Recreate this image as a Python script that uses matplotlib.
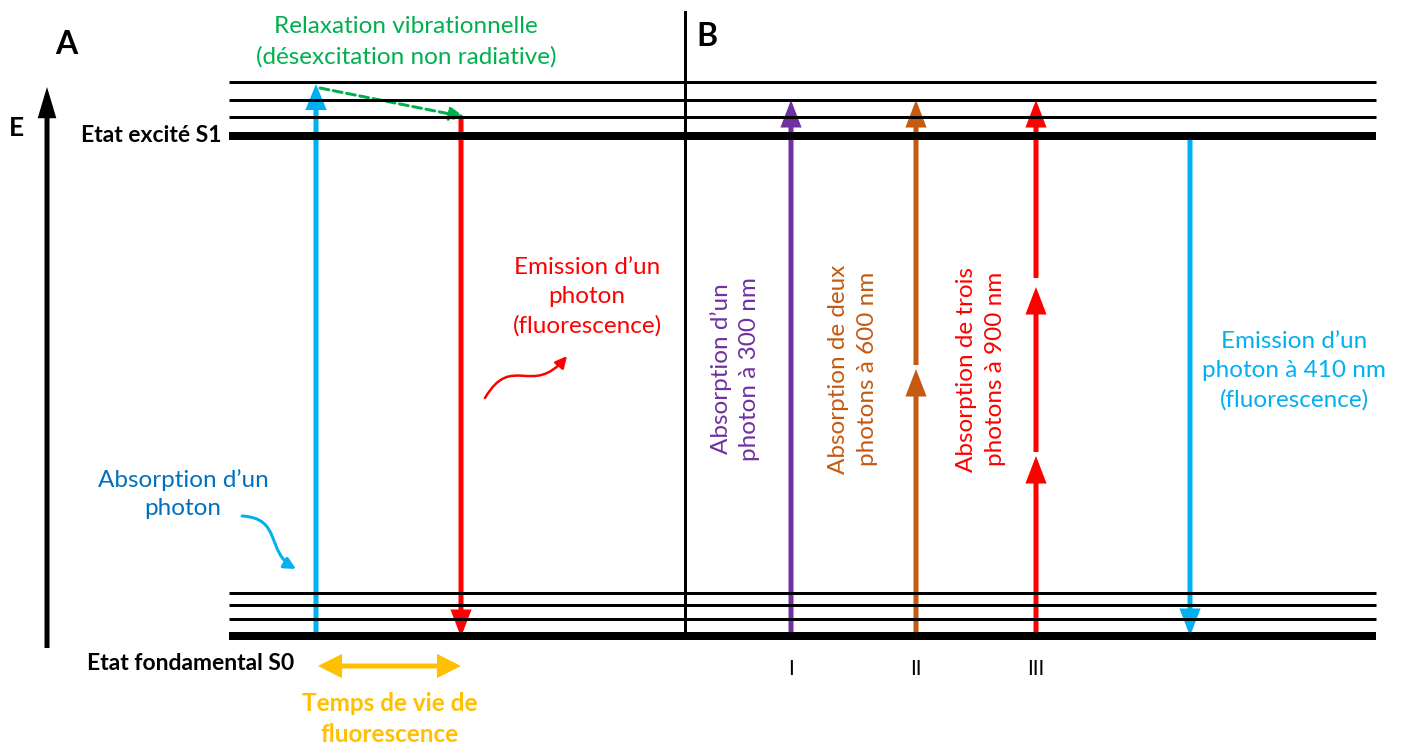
import matplotlib
matplotlib.use('Agg')
import matplotlib.pyplot as plt
from matplotlib.patches import FancyArrowPatch
from matplotlib.path import Path

FONT = ['Lato', 'DejaVu Sans']
plt.rcParams['font.family'] = FONT

W, H = 1401, 745
PX = 0.72  # points per pixel at dpi 100

# ---- data (pixel coordinates of the diagram) ----
s1_levels = [82, 100, 117, 136]
s0_levels = [593, 605, 619, 636]
level_widths = [3, 3, 3, 8]
level_x = [229, 1376]

abs_x = 316
em_x = 461
b_x = [791, 916, 1036]
b_labels = ['I', 'II', 'III']
b_colors = ['#7030A0', '#C55A11', '#FF0000']
b_segments = [
    [(636, 100)],
    [(636, 369), (365, 100)],
    [(636, 456), (452, 287), (278, 100)],
]
b_texts = ["Absorption d\u2019un\nphoton \u00e0 300 nm",
           "Absorption de deux\nphotons \u00e0 600 nm",
           "Absorption de trois\nphotons \u00e0 900 nm"]
b_text_x = [735, 853, 981]
b_text_y = [369, 369, 369]
b_em_x = 1190

BLUE = '#00B0F0'
DBLUE = '#0070C0'
RED = '#FF0000'
GREEN = '#00B050'
ORANGE = '#FFC000'
FS = 17.5
LS = 1.45

fig = plt.figure(figsize=(W / 100, H / 100), dpi=100)
ax = fig.add_axes([0, 0, 1, 1])
ax.set_xlim(0, W)
ax.set_ylim(H, 0)
ax.axis('off')


def arrow(x0, y0, x1, y1, color, lw=5, hl=18, hw=14, style='-|>', ls='-'):
    st = f"{style},head_length={hl*PX/10:.2f},head_width={hw/2*PX/10:.2f}"
    ax.add_patch(FancyArrowPatch((x0, y0), (x1, y1), arrowstyle=st,
                                 mutation_scale=10, lw=lw * PX, color=color,
                                 shrinkA=0, shrinkB=0, linestyle=ls,
                                 joinstyle='miter', capstyle='butt'))


# energy levels
for levels in (s1_levels, s0_levels):
    for y, w in zip(levels, level_widths):
        ax.plot(level_x, [y, y], color='black', lw=w * PX, solid_capstyle='butt')

# divider
ax.plot([685, 685], [12, 637], color='black', lw=3 * PX)

# E axis arrow
arrow(47, 648, 47, 87, 'black', lw=5, hl=20, hw=12)
ax.text(16, 128, 'E', fontsize=19, fontweight='bold', ha='center', va='center')
ax.text(66, 44, 'A', fontsize=23, fontweight='bold', ha='center', va='center')
ax.text(707, 36, 'B', fontsize=23, fontweight='bold', ha='center', va='center')

ax.text(221, 136, 'Etat excit\u00e9 S1', fontsize=16.5, fontweight='bold', ha='right', va='center')
ax.text(294, 663, 'Etat fondamental S0', fontsize=16.5, fontweight='bold', ha='right', va='center')

# panel A
arrow(abs_x, 634, abs_x, 84, BLUE, lw=5, hl=17, hw=14)
arrow(em_x, 117, em_x, 637, RED, lw=5, hl=18, hw=14)
ax.add_patch(FancyArrowPatch((320, 88), (465, 117), arrowstyle='-|>,head_length=0.9,head_width=0.4',
                             mutation_scale=10, lw=3 * PX, color=GREEN, linestyle=(0, (3, 1.5)),
                             shrinkA=0, shrinkB=0))
ax.text(406, 42, 'Relaxation vibrationnelle\n(d\u00e9sexcitation non radiative)', fontsize=FS,
        color=GREEN, ha='center', va='center', linespacing=LS + 0.05)
ax.text(587, 297, 'Emission d\u2019un\nphoton\n(fluorescence)', fontsize=FS, color=RED,
        ha='center', va='center', linespacing=LS)
ax.text(183, 494, 'Absorption d\u2019un\nphoton', fontsize=FS, color=DBLUE,
        ha='center', va='center', linespacing=LS)

wavy = Path([(485, 398), (512, 352), (532, 398), (567, 356)],
            [Path.MOVETO, Path.CURVE4, Path.CURVE4, Path.CURVE4])
ax.add_patch(FancyArrowPatch(path=wavy, arrowstyle='-|>,head_length=0.7,head_width=0.35',
                             mutation_scale=10, lw=2.5 * PX, color=RED))
curve = Path([(242, 516), (282, 518), (266, 552), (296, 569)],
             [Path.MOVETO, Path.CURVE4, Path.CURVE4, Path.CURVE4])
ax.add_patch(FancyArrowPatch(path=curve, arrowstyle='-|>,head_length=0.7,head_width=0.35',
                             mutation_scale=10, lw=3 * PX, color=BLUE))

arrow(318, 666, 461, 666, ORANGE, lw=5, hl=16, hw=16, style='<|-|>')
ax.text(390, 719, 'Temps de vie de\nfluorescence', fontsize=FS, fontweight='bold',
        color=ORANGE, ha='center', va='center', linespacing=LS)

# panel B
for x, segs, c, t, tx, ty, lab in zip(b_x, b_segments, b_colors, b_texts, b_text_x, b_text_y, b_labels):
    for y0, y1 in segs:
        arrow(x, y0, x, y1, c, lw=5, hl=18, hw=14)
    ax.text(tx, ty, t, fontsize=FS, color=c, rotation=90, ha='center', va='center',
            linespacing=LS, rotation_mode='anchor')
    ax.text(x, 669, lab, fontsize=15, color='black', ha='center', va='center')

arrow(b_em_x, 136, b_em_x, 636, BLUE, lw=5, hl=18, hw=14)
ax.text(1294, 371, 'Emission d\u2019un\nphoton \u00e0 410 nm\n(fluorescence)', fontsize=FS,
        color=BLUE, ha='center', va='center', linespacing=LS)

fig.savefig('out.png', dpi=100)
